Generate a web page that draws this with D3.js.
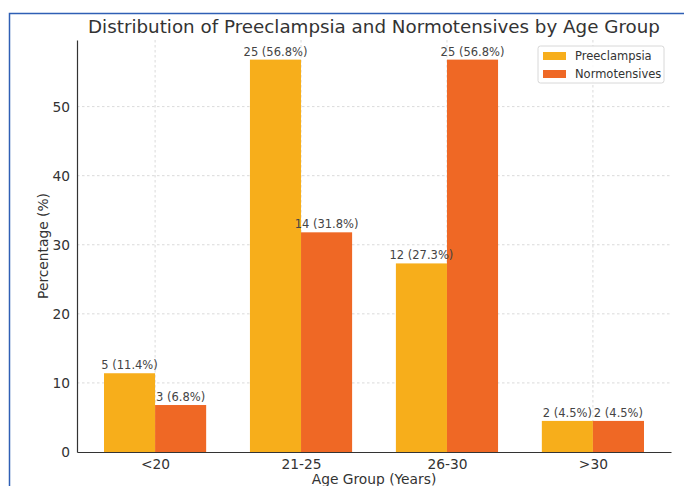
<!DOCTYPE html>
<html>
<head>
<meta charset="utf-8">
<script src="https://cdn.jsdelivr.net/npm/d3@7"></script>
<style>
  html, body { margin: 0; padding: 0; background: #fff; }
  svg { display: block; font-family: "DejaVu Sans", sans-serif; }
</style>
</head>
<body>
<svg id="chart" width="684" height="486"></svg>
<script>
const categories = ["<20", "21-25", "26-30", ">30"];
const preeclampsiaPct = [11.4, 56.8, 27.3, 4.5];
const preeclampsiaN = [5, 25, 12, 2];
const normotensivesPct = [6.8, 31.8, 56.8, 4.5];
const normotensivesN = [3, 14, 25, 2];
const yTicks = [0, 10, 20, 30, 40, 50];
const seriesNames = ["Preeclampsia", "Normotensives"];
const colors = ["#F7AE1B", "#EF6825"];

(function () {
const svg = d3.select("#chart");
const mLeft = 77, mRight = 671, mTop = 40, mBottom = 452;
const barW = 0.35;

const x = d3.scaleLinear().domain([-0.35 - 0.185, 3.35 + 0.185]).range([mLeft, mRight]);
const yMax = d3.max(preeclampsiaPct.concat(normotensivesPct)) * 1.05;
const y = d3.scaleLinear().domain([0, yMax]).range([mBottom, mTop]);

// border of screenshot
svg.append("path").attr("d", "M9.5,486 L9.5,13.5 L684,13.5")
  .attr("fill", "none").attr("stroke", "#2f5fb5").attr("stroke-width", 1.5);

// grid
const grid = svg.append("g");
grid.selectAll("line.h").data(yTicks.slice(1)).join("line")
  .attr("x1", mLeft).attr("x2", mRight)
  .attr("y1", d => y(d)).attr("y2", d => y(d))
  .attr("stroke", "#d0d0d0").attr("stroke-width", 0.8).attr("stroke-dasharray", "2.5,2.5");
grid.selectAll("line.v").data(categories).join("line")
  .attr("x1", (d, i) => x(i)).attr("x2", (d, i) => x(i))
  .attr("y1", mTop).attr("y2", mBottom)
  .attr("stroke", "#d0d0d0").attr("stroke-width", 0.8).attr("stroke-dasharray", "2.5,2.5");

// bars
const series = [
  { pct: preeclampsiaPct, n: preeclampsiaN, off: -barW / 2 },
  { pct: normotensivesPct, n: normotensivesN, off: barW / 2 }
];
series.forEach((s, si) => {
  svg.append("g").selectAll("rect").data(s.pct).join("rect")
    .attr("x", (d, i) => x(i + s.off - barW / 2))
    .attr("width", x(barW) - x(0))
    .attr("y", d => y(d))
    .attr("height", d => y(0) - y(d))
    .attr("fill", colors[si]);
});
series.forEach((s, si) => {
  svg.append("g").selectAll("text").data(s.pct).join("text")
    .attr("x", (d, i) => x(i + s.off))
    .attr("y", d => y(d) - 4)
    .attr("text-anchor", "middle")
    .attr("font-size", 11.5)
    .attr("fill", "#444")
    .text((d, i) => `${s.n[i]} (${d.toFixed(1)}%)`);
});

// axes
const yAxis = d3.axisLeft(y).tickValues(yTicks).tickSize(0).tickPadding(7);
const gy = svg.append("g").attr("transform", `translate(${mLeft},0)`).call(yAxis);
gy.select(".domain").attr("stroke", "#333").attr("stroke-width", 1.2);
gy.selectAll("text").attr("font-size", 13.8).attr("fill", "#333").attr("font-family", "DejaVu Sans, sans-serif");

const xAxis = d3.axisBottom(x).tickValues(d3.range(categories.length))
  .tickFormat(i => categories[i]).tickSize(0).tickPadding(7);
const gx = svg.append("g").attr("transform", `translate(0,${mBottom})`).call(xAxis);
gx.select(".domain").attr("stroke", "#333").attr("stroke-width", 1.2);
gx.selectAll("text").attr("font-size", 13.8).attr("fill", "#333").attr("font-family", "DejaVu Sans, sans-serif");

// axis labels
svg.append("text").attr("x", (mLeft + mRight) / 2).attr("y", 484)
  .attr("text-anchor", "middle").attr("font-size", 13.8).attr("fill", "#333")
  .text("Age Group (Years)");
svg.append("text").attr("transform", `translate(48,${(mTop + mBottom) / 2}) rotate(-90)`)
  .attr("text-anchor", "middle").attr("font-size", 13.8).attr("fill", "#333")
  .text("Percentage (%)");

// title
svg.append("text").attr("x", (mLeft + mRight) / 2).attr("y", 33)
  .attr("text-anchor", "middle").attr("font-size", 18.3).attr("fill", "#333")
  .text("Distribution of Preeclampsia and Normotensives by Age Group");

// legend
const lg = svg.append("g").attr("transform", "translate(538,46)");
lg.append("rect").attr("width", 126).attr("height", 37).attr("rx", 2.5)
  .attr("fill", "#fff").attr("fill-opacity", 0.85).attr("stroke", "#d8d8d8");
seriesNames.forEach((name, i) => {
  lg.append("rect").attr("x", 5).attr("y", 6 + i * 18).attr("width", 23).attr("height", 8)
    .attr("fill", colors[i]);
  lg.append("text").attr("x", 37).attr("y", 14 + i * 18)
    .attr("font-size", 11.5).attr("fill", "#333").text(name);
});
})();
</script>
</body>
</html>
